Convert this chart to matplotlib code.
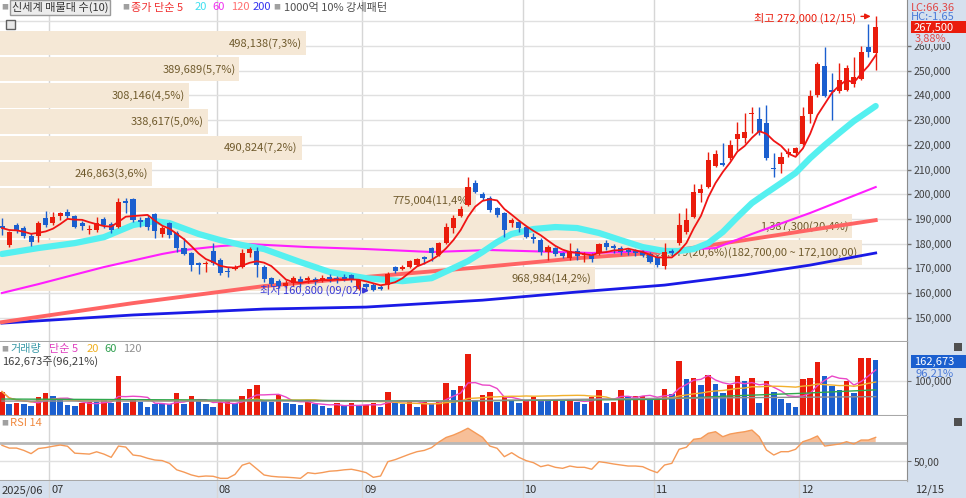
import numpy as np
import pandas as pd
import matplotlib
matplotlib.use("Agg")
import matplotlib.pyplot as plt
import matplotlib.transforms as mtransforms
from matplotlib.patches import Rectangle

plt.rcParams['font.family'] = ['Noto Sans CJK KR', 'DejaVu Sans']

# ---- daily candles (thousand won), 2025/06/20 .. 2025/12/15 ----
opens = [187.1,179.4,187.5,186.3,183.1,183.1,190.3,188.3,191.2,192.8,
         191.2,188.3,185.5,185.5,189.9,187.9,186.7,197.2,198.0,189.5,
         190.3,192.0,183.9,188.3,184.3,178.2,176.2,172.1,171.7,177.0,
         173.3,168.9,169.7,170.5,176.2,177.0,170.5,166.0,164.8,162.8,
         164.0,165.6,165.2,165.6,165.2,166.5,166.0,166.5,167.3,161.6,
         163.6,163.2,162.4,163.2,170.5,169.7,170.5,171.3,174.6,178.2,
         175.4,180.2,186.3,191.2,195.6,204.5,200.1,198.4,194.4,192.4,
         188.3,188.7,186.7,182.6,181.4,176.6,178.2,176.2,174.1,177.0,
         175.4,175.4,176.2,180.2,179.0,178.2,177.4,177.0,176.6,175.8,
         174.6,170.9,177.0,180.2,184.7,190.7,200.5,202.9,211.4,212.6,
         214.6,222.3,222.7,232.5,230.4,228.8,210.6,212.2,216.3,216.7,
         220.3,232.5,240.2,251.9,242.2,241.8,242.2,244.6,246.6,259.6,
         257.2]
highs = [190.3,185.1,188.3,187.1,184.3,189.1,193.2,192.8,192.8,194.0,
         191.6,189.1,187.5,190.7,190.7,188.7,198.4,198.4,198.4,190.7,
         191.6,192.4,187.1,188.7,185.1,182.2,176.6,172.5,172.9,180.2,
         174.1,170.5,171.3,177.8,178.6,178.6,171.3,166.5,165.6,165.2,
         166.9,166.9,166.9,166.5,167.3,167.7,166.9,167.7,167.7,165.6,
         164.0,164.0,163.2,168.5,170.9,171.3,173.3,174.1,175.0,178.6,
         180.6,188.3,191.6,195.2,206.9,205.7,200.9,199.2,194.8,192.8,
         190.3,189.5,187.1,184.3,182.2,179.4,178.6,176.6,180.2,178.2,
         176.6,176.2,180.2,181.4,179.8,179.0,178.2,177.8,177.4,176.6,
         175.4,180.2,177.8,192.4,194.4,204.1,204.1,217.1,217.9,220.7,
         221.9,229.2,232.9,235.3,235.3,236.1,216.7,217.1,218.7,219.1,
         235.3,242.2,253.5,259.6,249.1,253.1,252.3,255.5,260.0,268.9,
         272.0]
lows = [183.5,178.6,184.3,182.2,179.0,180.6,186.7,187.5,189.5,190.3,
        186.3,185.5,183.9,184.7,186.3,184.3,186.3,192.4,188.7,186.7,
        185.5,182.2,182.6,182.2,176.6,175.4,168.9,167.7,168.5,171.3,
        167.3,166.5,169.3,170.1,174.6,166.5,164.4,162.8,162.0,162.0,
        162.8,162.4,164.0,163.2,164.4,164.4,164.0,164.8,164.4,161.2,
        161.6,160.8,161.2,161.6,168.1,169.3,170.1,170.9,171.7,172.9,
        175.0,179.8,184.3,190.7,195.2,200.5,197.6,192.8,190.7,182.6,
        186.7,184.7,182.2,180.2,175.4,173.3,175.0,174.1,173.3,173.3,
        172.5,172.5,175.4,177.4,176.2,175.4,175.4,175.0,174.6,172.1,
        170.5,169.7,175.4,179.4,183.9,190.3,196.8,202.5,211.0,211.4,
        213.8,217.9,220.7,224.8,224.0,213.8,206.9,208.6,215.0,215.9,
        219.9,228.8,239.3,239.3,230.0,241.0,241.8,243.4,246.2,255.5,
        250.3]
closes = [186.3,184.7,185.1,183.1,180.6,188.3,187.5,190.7,192.4,191.2,
          186.7,187.1,185.9,188.3,187.5,185.5,196.8,196.4,189.5,188.7,
          186.7,185.1,186.3,183.5,178.2,175.8,171.3,171.3,172.1,172.1,
          168.1,168.5,170.5,176.2,177.8,171.3,165.6,163.6,162.8,164.0,
          166.0,164.0,166.0,164.4,166.0,165.6,165.2,165.6,165.2,165.2,
          162.4,161.2,161.6,167.7,168.9,170.5,172.9,173.7,173.7,176.2,
          180.2,186.7,190.3,194.0,202.9,200.9,198.4,193.6,191.6,185.5,
          189.5,186.3,182.6,181.8,176.6,178.6,175.8,175.0,177.0,175.0,
          175.8,173.7,179.8,178.6,178.2,176.6,176.6,176.2,175.4,172.5,
          171.3,176.6,176.2,187.5,189.5,200.9,202.1,213.8,216.3,211.8,
          219.9,224.4,225.2,232.9,225.2,214.6,210.2,215.0,217.1,218.7,
          231.7,239.8,252.7,239.8,241.4,246.2,251.1,247.4,257.6,257.5,
          267.5]

# moving averages (index, thousand won)
ma20_idx = [0,5,10,14,18,21,23,27,30,33,36,41,45,50,55,59,62,64,66,68,70,73,76,79,82,85,88,91,93,95,
            97,99,101,103,105,107,109,111,113,115,117,120]
ma20_val = [175.8,178.2,180.2,182.6,187.5,189.1,188.3,183.9,181.4,179.4,177.8,172.5,168.5,166.0,164.8,
            166.0,170.1,172.9,176.6,180.6,183.9,185.9,186.7,186.3,184.3,181.4,178.6,177.0,177.0,177.8,
            180.2,184.7,190.7,196.4,200.5,204.5,208.6,214.6,219.9,224.8,229.6,235.7]
ma60_idx = [0,5,14,22,25,30,34,42,50,59,67,81,90,98,103,111,120]
ma60_val = [160.0,163.6,170.5,175.8,177.4,179.0,179.8,178.6,177.8,176.6,177.4,176.2,177.0,178.2,183.9,192.4,202.9]
ma_long_idx = [0,18,36,50,66,79,91,102,111,120]
ma120_val = [148.2,155.9,162.8,166.5,170.5,174.1,176.6,181.4,185.5,189.5]
ma200_val = [147.8,151.1,153.5,154.3,157.1,160.4,163.2,167.3,171.3,176.2]

# volume (thousand shares) and bar colour as drawn (r: up vs previous day, b: down)
volumes = [70,32,35,34,28,55,65,58,45,30,
           28,35,40,39,45,37,117,37,45,40,
           25,32,32,33,67,32,57,42,32,25,
           40,41,35,57,77,90,42,40,60,37,
           32,31,42,32,27,22,35,27,35,27,
           30,37,25,68,37,32,42,25,40,32,
           40,95,75,87,180,45,60,70,40,53,
           42,35,42,53,45,44,45,43,45,40,
           32,53,75,35,40,75,55,56,58,50,
           47,77,63,160,107,110,90,120,93,67,
           88,117,100,110,35,100,68,47,37,25,
           107,110,158,117,87,75,100,67,168,170,
           162.673]
vol_colors = ("rbrbbrrbbb" "brrbrbrbrb" "bbbbrbrbbb" "rrbrrrbbrb" "bbrbbbrbrb"
              "rrbrbbrbrb" "rrbrrbrrbr" "bbrrbbrbrb" "brrbrrbrrb" "rrbrbrbrbb"
              "rrbrbrbbbb" "rrrbbbrbrr" "b")
vma60_idx = [0, 30, 60, 90, 100, 110, 120]
vma60_val = [48, 45, 42, 47, 57, 65, 75]
vma120_idx = [0, 60, 90, 120]
vma120_val = [42, 42, 50, 55]

rsi = [67.5,64.5,64.5,62.0,58.5,64.0,65.0,66.5,67.8,66.5,
       59.0,58.5,58.0,60.5,58.0,54.5,66.7,65.6,57.0,56.0,
       53.5,51.6,51.0,48.0,41.0,38.5,35.5,33.6,34.3,34.0,
       31.8,31.8,36.0,46.0,48.5,42.0,35.4,34.0,33.3,33.0,
       32.5,31.8,37.9,36.9,38.0,39.5,40.0,41.0,41.6,40.0,
       38.0,32.9,34.3,49.8,52.0,55.0,58.0,60.6,62.0,65.0,
       71.0,76.0,78.6,82.0,86.0,81.0,76.1,66.7,64.3,55.2,
       59.5,54.5,50.9,48.7,44.4,46.2,43.7,42.6,45.1,43.7,
       43.7,41.6,49.8,48.7,47.3,46.2,45.1,45.1,44.4,40.8,
       37.9,46.2,48.0,63.2,65.4,74.0,75.0,80.5,82.2,76.8,
       79.7,81.1,82.2,84.0,76.8,62.4,57.0,60.6,60.6,63.2,
       71.4,74.0,77.6,66.7,67.8,68.9,71.4,68.9,73.2,73.2,
       76.1]

# volume profile (매물대), top bin first
prof_low = [256.9,246.3,235.7,225.1,214.5,203.9,193.3,182.7,172.1,161.5]
prof_high = [267.5,256.9,246.3,235.7,225.1,214.5,203.9,193.3,182.7,172.1]
prof_vol = [498138,389689,308146,338617,490824,246863,775004,1387300,1402379,968984]
prof_pct = [7.3,5.7,4.5,5.0,7.2,3.6,11.4,20.4,20.6,14.2]

month_start = [7, 30, 50, 72, 90, 110]
month_labels = ['07', '08', '09', '10', '11', '12']

RED = '#ea1c0c'
BLUE = '#1b5fcf'
PANEL = '#d5e0ee'
GRID = '#e0e0e0'
SEP = '#a8a8a8'

o = np.array(opens) * 1000
h = np.array(highs) * 1000
l = np.array(lows) * 1000
c = np.array(closes) * 1000
x = np.arange(len(c))

W, H = 966, 498
fig = plt.figure(figsize=(W / 100, H / 100), dpi=100)
fig.patch.set_facecolor('white')
fig.patches.append(Rectangle((907 / W, 0), 1 - 907 / W, 1, transform=fig.transFigure,
                             facecolor=PANEL, edgecolor='none', zorder=-5))
fig.patches.append(Rectangle((0, 0), 1, 17 / H, transform=fig.transFigure,
                             facecolor=PANEL, edgecolor='none', zorder=-5))


def ftxt(px, py, s, **kw):
    kw.setdefault('fontsize', 8)
    kw.setdefault('va', 'center')
    return fig.text(px / W, 1 - py / H, s, **kw)


ax = fig.add_axes([0, 1 - 342 / H, 907 / W, 342 / H])
axv = fig.add_axes([0, 1 - 416 / H, 907 / W, 74 / H])
axr = fig.add_axes([0, 1 - 481 / H, 907 / W, 65 / H])
axx = fig.add_axes([0, 0, 907 / W, 17 / H])

xmin, xmax = -0.27, 124.3
grid_x = np.array(month_start) - 0.5
for a in (ax, axv, axr, axx):
    a.set_xlim(xmin, xmax)
    a.set_xticks([])
    for s in a.spines.values():
        s.set_visible(False)
    for g in grid_x:
        a.axvline(g, color='#d6d6d6', lw=1, zorder=0.5)
for a in (ax, axv, axr):
    a.spines['bottom'].set_visible(True)
    a.spines['bottom'].set_color(SEP)
    a.spines['bottom'].set_linewidth(1.5)
    a.spines['right'].set_visible(True)
    a.spines['right'].set_color('#8c8c8c')
axx.set_facecolor(PANEL)
axx.set_yticks([])

# ---------------- price panel ----------------
ax.set_ylim(140160, 278630)
for p in range(150000, 280000, 10000):
    ax.axhline(p, color=GRID, lw=1, zorder=0.5)
ax.yaxis.tick_right()
ax.set_yticks(range(150000, 270000, 10000))
ax.set_yticklabels([f"{v:,}" for v in range(150000, 270000, 10000)])
ax.tick_params(axis='y', length=3, width=1, color='#707070', labelsize=7.5,
               labelcolor='#404040', pad=2)

bar_tr = mtransforms.blended_transform_factory(ax.transAxes, ax.transData)
max_vol = max(prof_vol)
for lo, hi, v, pc in zip(prof_low, prof_high, prof_vol, prof_pct):
    w = v / max_vol * 0.95
    y0 = (lo - 1.0 + 0.4) * 1000
    y1 = (hi - 1.0 - 0.4) * 1000
    ax.add_patch(Rectangle((0, y0), w, y1 - y0, transform=bar_tr,
                           facecolor='#f5e8d6', edgecolor='none', zorder=1))
    label = f"{v:,}({pc:.1f}%)".replace('.', ',')
    if v == max_vol:
        label += f"({hi * 1000:,.0f},00 ~ {lo * 1000:,.0f},00)"
    ax.text(w - 4 / 907, (y0 + y1) / 2, label, transform=bar_tr, ha='right', va='center',
            fontsize=8, color='#6f5a2c', zorder=2)

ax.plot(ma_long_idx, np.array(ma200_val) * 1000, color='#1a1ae6', lw=2, zorder=3)
ax.plot(ma_long_idx, np.array(ma120_val) * 1000, color='#ff6464', lw=2.8, zorder=3)
ax.plot(ma60_idx, np.array(ma60_val) * 1000, color='#ff1eff', lw=1.5, zorder=3)
ax.plot(ma20_idx, np.array(ma20_val) * 1000, color='#55f0f0', lw=4.5, zorder=3,
        solid_capstyle='round')

cols = np.where(c >= o, RED, BLUE)
ax.vlines(x, l, h, colors=cols, lw=1, zorder=4)
ax.bar(x, np.maximum(np.abs(c - o), 400), bottom=np.minimum(o, c), width=0.7,
       color=cols, linewidth=0, zorder=5)
ma5 = pd.Series(c).rolling(5, min_periods=1).mean()
ax.plot(x, ma5, color='#f01414', lw=1.3, zorder=6)

# highest / lowest marks
ax.text(117.3, 271400, "최고 272,000 (12/15)", ha='right', va='center', fontsize=8,
        color=RED, zorder=7)
ax.annotate('', xy=(119.7, 272000), xytext=(117.6, 272000),
            arrowprops=dict(arrowstyle='-|>', color=RED, lw=1, mutation_scale=8), zorder=7)
ax.text(49.4, 161200, "최저 160,800 (09/02)", ha='right', va='center', fontsize=8,
        color='#3838d8', zorder=7)
ax.annotate('', xy=(50.8, 161000), xytext=(49.5, 161000),
            arrowprops=dict(arrowstyle='-|>', color='#3838d8', lw=1.2, mutation_scale=8), zorder=7)

# ---------------- volume panel ----------------
vol = np.array(volumes) * 1000
axv.set_ylim(-2000, 216000)
axv.axhline(100000, color=GRID, lw=1, zorder=0.5)
vcols = [RED if ch == 'r' else BLUE for ch in vol_colors]
axv.bar(x, vol, width=0.76, color=vcols, linewidth=0, zorder=2)
axv.plot(x, pd.Series(vol).rolling(5, min_periods=1).mean(), color='#ea48c8', lw=1, zorder=3)
axv.plot(x, pd.Series(vol).rolling(20, min_periods=1).mean(), color='#f2b02c', lw=1, zorder=3)
axv.plot(vma60_idx, np.array(vma60_val) * 1000, color='#2fa84c', lw=1, zorder=3)
axv.plot(vma120_idx, np.array(vma120_val) * 1000, color='#909090', lw=1, zorder=3)
axv.yaxis.tick_right()
axv.set_yticks([100000])
axv.set_yticklabels(["100,000"])
axv.tick_params(axis='y', length=3, color='#707070', labelsize=7.5, labelcolor='#404040', pad=2)

# ---------------- RSI panel ----------------
r = np.array(rsi)
axr.set_ylim(28.9, 99.2)
axr.axhline(50, color=GRID, lw=1, zorder=0.5)
axr.fill_between(x, 70, r, where=r >= 70, interpolate=True, color='#f7bf98', lw=0, zorder=1)
axr.axhline(70, color='#b8b8b8', lw=2, zorder=2)
axr.plot(x, r, color='#f59a58', lw=1, zorder=3)
axr.yaxis.tick_right()
axr.set_yticks([50])
axr.set_yticklabels(["50,00"])
axr.tick_params(axis='y', length=3, color='#707070', labelsize=7.5, labelcolor='#404040', pad=2)

# ---------------- date strip ----------------
axx.set_ylim(0, 1)
strip_tr = mtransforms.blended_transform_factory(axx.transData, axx.transAxes)
axx.text(0.002, 0.45, "2025/06", transform=axx.transAxes, fontsize=8, color='#333333',
         va='center', ha='left')
for g, lbl in zip(grid_x, month_labels):
    axx.text(g + 0.25, 0.45, lbl, transform=strip_tr, fontsize=8, color='#333333',
             va='center', ha='left')
ftxt(915, 490, "12/15", color='#333333')

# ---------------- legends / header ----------------
ftxt(1, 7.5, "■", fontsize=5, color='#a0a0a0')
ftxt(12, 7.5, "신세계 매물대 수(10)", color='#333333',
     bbox=dict(boxstyle='square,pad=0.15', facecolor='#ececec', edgecolor='#9a9a9a', lw=1))
ftxt(122, 7.5, "■", fontsize=5, color='#a0a0a0')
ftxt(131, 7.5, "종가 단순 5", color='#f03030')
ftxt(195, 7.5, "20", color='#3fe0f0')
ftxt(212, 7.5, "60", color='#f030f0')
ftxt(231, 7.5, "120", color='#ff7070')
ftxt(253, 7.5, "200", color='#3434f0')
ftxt(273, 7.5, "■", fontsize=5, color='#a0a0a0')
ftxt(284, 7.5, "1000억 10% 강세패턴", color='#505050')
fig.patches.append(Rectangle((6 / W, 1 - 29 / H), 9 / W, 9 / H, transform=fig.transFigure,
                             facecolor='#e8e8e8', edgecolor='#606060', lw=1, zorder=10))

ftxt(1, 349, "■", fontsize=5, color='#a0a0a0')
ftxt(10, 349, "거래량", color='#3b9aa8')
ftxt(49, 349, "단순 5", color='#e040c0')
ftxt(87, 349, "20", color='#f0b020')
ftxt(104, 349, "60", color='#30a050')
ftxt(123, 349, "120", color='#909090')
ftxt(2, 362, "162,673주(96,21%)", color='#404040')
ftxt(1, 423, "■", fontsize=5, color='#a0a0a0')
ftxt(10, 423, "RSI 14", color='#f08a40')

# right side value tags
ftxt(911, 8, "LC:66,36", color='#e04848')
ftxt(911, 17, "HC:-1,65", color='#4a7ad8')
fig.patches.append(Rectangle((911 / W, 1 - 33.5 / H), 55 / W, 12 / H, transform=fig.transFigure,
                             facecolor=RED, edgecolor='none', zorder=10))
ftxt(914, 27.5, "267,500", color='white', zorder=11)
ftxt(915, 38.5, "3,88%", color='#e04848', zorder=11,
     bbox=dict(boxstyle='square,pad=0.05', facecolor=PANEL, edgecolor='none'))
fig.patches.append(Rectangle((911 / W, 1 - 368 / H), 55 / W, 13 / H, transform=fig.transFigure,
                             facecolor=BLUE, edgecolor='none', zorder=10))
ftxt(914, 361.5, "162,673", color='white', zorder=11)
ftxt(915, 374, "96,21%", color='#4a7ad8', zorder=11)
for yy in (347, 422):
    fig.patches.append(Rectangle((954 / W, 1 - (yy + 4) / H), 8 / W, 8 / H,
                                 transform=fig.transFigure, facecolor='#505050',
                                 edgecolor='none', zorder=10))

fig.savefig("out.png", dpi=100)
